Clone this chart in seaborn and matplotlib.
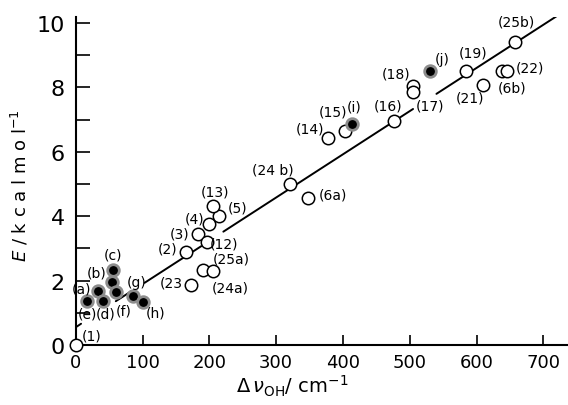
import pandas as pd
import numpy as np
import matplotlib
matplotlib.use("Agg")
import matplotlib.pyplot as plt
import seaborn as sns

# open circles: numbered compounds
open_labels = ["(1)", "(2)", "(3)", "(4)", "(5)", "(12)", "(13)", "(23", "(25a)", "(24a)",
               "(24 b)", "(6a)", "(14)", "(15)", "(16)", "(18)", "(17)", "(19)", "(21)",
               "(6b)", "(22)", "(25b)"]
open_dnu = [0, 165, 183, 200, 215, 196, 205, 172, 191, 205,
            321, 347, 377, 403, 477, 505, 505, 584, 609, 638, 645, 657]
open_E = [0.0, 2.90, 3.45, 3.76, 4.02, 3.21, 4.33, 1.86, 2.34, 2.29,
          5.00, 4.56, 6.42, 6.64, 6.97, 8.05, 7.85, 8.52, 8.07, 8.52, 8.52, 9.40]

# filled circles: lettered compounds
filled_labels = ["(a)", "(b)", "(d)", "(c)", "(e)", "(f)", "(g)", "(h)", "(i)", "(j)"]
filled_dnu = [17, 34, 41, 56, 55, 60, 86, 101, 413, 530]
filled_E = [1.38, 1.69, 1.38, 2.34, 1.97, 1.64, 1.53, 1.34, 6.86, 8.52]

# correlation line, drawn in pieces (broken where labels sit)
line_seg = [0, 0, 1, 1, 2, 2, 3, 3, 4, 4]
line_dnu = [0, 8, 60, 84, 103, 188, 221, 505, 540, 725]
line_E = [0.55, 0.66, 1.36, 1.68, 1.93, 3.07, 3.52, 7.33, 7.80, 10.28]

# label offsets in pixels (dx, dy), style only
offsets = {
    "(1)": (16, 9), "(2)": (-18, 3), "(3)": (-18, 0), "(4)": (-15, 5), "(5)": (18, 8),
    "(12)": (17, -2), "(13)": (2, 14), "(23": (-19, 3), "(25a)": (28, 11), "(24a)": (18, -16),
    "(24 b)": (-17, 15), "(6a)": (25, 4), "(14)": (-18, 10), "(15)": (-12, 20),
    "(16)": (-6, 15), "(18)": (-17, 12), "(17)": (17, -13), "(19)": (7, 18),
    "(21)": (-13, -12), "(6b)": (10, -17), "(22)": (23, 3), "(25b)": (2, 21),
    "(a)": (-6, 12), "(b)": (-2, 18), "(d)": (3, -13), "(c)": (0, 15), "(e)": (-25, -32),
    "(f)": (8, -18), "(g)": (3, 14), "(h)": (12, -11), "(i)": (3, 18), "(j)": (12, 12),
}

df_open = pd.DataFrame({"dnu": open_dnu, "E": open_E, "label": open_labels})
df_fill = pd.DataFrame({"dnu": filled_dnu, "E": filled_E, "label": filled_labels})
df_line = pd.DataFrame({"dnu": line_dnu, "E": line_E, "seg": line_seg})

sns.set_style("ticks")
plt.rcParams["font.family"] = ["DejaVu Sans"]
plt.rcParams.update({"text.color": "black", "axes.labelcolor": "black",
                     "xtick.color": "black", "ytick.color": "black",
                     "axes.edgecolor": "black"})

fig = plt.figure(figsize=(5.68, 4.06), dpi=100)
ax = fig.add_axes([0.1333, 0.1478, 0.8644, 0.8089])

sns.lineplot(data=df_line, x="dnu", y="E", units="seg", estimator=None,
             color="black", linewidth=1.4, ax=ax, legend=False)
sns.scatterplot(data=df_open, x="dnu", y="E", s=80, facecolor="white",
                edgecolor="black", linewidth=1.1, ax=ax, zorder=3, clip_on=False)
sns.scatterplot(data=df_fill, x="dnu", y="E", s=70, color="black",
                edgecolor="0.55", linewidth=2.0, ax=ax, zorder=3)

for d in (df_open, df_fill):
    for _, r in d.iterrows():
        dx, dy = offsets[r["label"]]
        ax.annotate(r["label"], (r["dnu"], r["E"]), xytext=(dx, dy),
                    textcoords="offset pixels", ha="center", va="center",
                    fontsize=10, zorder=4)

ax.set_xlim(0, 735)
ax.set_ylim(0, 10.2)
ax.set_xticks(range(0, 800, 100))
ax.set_yticks(range(0, 11, 1))
ax.set_yticklabels([str(v) if v % 2 == 0 else "" for v in range(0, 11)])
ax.tick_params(axis="x", direction="in", length=7, width=1.2, labelsize=13, pad=6)
ax.tick_params(axis="y", direction="in", length=10, width=1.2, labelsize=16, pad=8)
sns.despine(ax=ax)
for sp in ("left", "bottom"):
    ax.spines[sp].set_linewidth(1.5)

ax.set_xlabel(r"$\Delta\,\nu_{\rm OH}$/ cm$^{-1}$", fontsize=14)
ax.xaxis.set_label_coords(0.44, -0.085)
ax.set_ylabel(r"$E$ / k c a l m o l$^{-1}$", fontsize=13)
ax.yaxis.set_label_coords(-0.093, 0.487)

fig.savefig("out.png", dpi=100)
